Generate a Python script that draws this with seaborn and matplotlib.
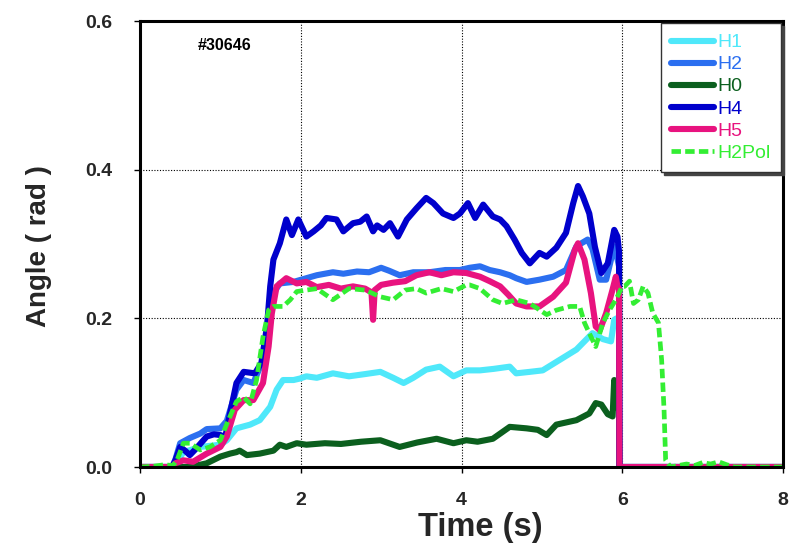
import matplotlib
matplotlib.use("Agg")
import matplotlib.pyplot as plt
import seaborn as sns
import pandas as pd

# ---------------- data ----------------
series_names = ["H1", "H2", "H0", "H4", "H5", "H2Pol"]
series_colors = ["#4FE8FA", "#2B6FF0", "#0B5F1E", "#0000CC", "#E8137F", "#33EE33"]

H1_t = [0, 0.40, 0.44, 0.54, 0.75, 1.00, 1.08, 1.20, 1.37, 1.49, 1.62, 1.70, 1.78, 1.91, 1.99, 2.07, 2.2, 2.40, 2.6, 2.8, 2.99, 3.15, 3.28, 3.4, 3.56, 3.73, 3.90, 4.06, 4.23, 4.4, 4.60, 4.68, 4.85, 5.01, 5.22, 5.43, 5.63, 5.76, 5.86, 5.90, 5.93, 5.96, 5.965, 8.0]
H1_v = [0, 0, 0.003, 0.02, 0.027, 0.03, 0.036, 0.052, 0.057, 0.063, 0.081, 0.104, 0.117, 0.117, 0.119, 0.122, 0.12, 0.126, 0.122, 0.125, 0.128, 0.12, 0.113, 0.12, 0.131, 0.135, 0.122, 0.13, 0.13, 0.132, 0.135, 0.126, 0.128, 0.13, 0.144, 0.158, 0.18, 0.172, 0.169, 0.198, 0.2, 0.2, 0.0, 0.0]

H2_t = [0, 0.40, 0.44, 0.50, 0.62, 0.75, 0.83, 1.00, 1.08, 1.20, 1.29, 1.41, 1.53, 1.60, 1.66, 1.74, 1.91, 2.07, 2.2, 2.4, 2.53, 2.7, 2.85, 3.0, 3.1, 3.23, 3.4, 3.6, 3.8, 3.98, 4.1, 4.23, 4.35, 4.48, 4.6, 4.68, 4.81, 4.97, 5.14, 5.30, 5.43, 5.57, 5.63, 5.72, 5.80, 5.90, 5.94, 5.96, 5.965, 8.0]
H2_v = [0, 0, 0.01, 0.032, 0.039, 0.045, 0.051, 0.052, 0.062, 0.104, 0.117, 0.113, 0.144, 0.202, 0.234, 0.247, 0.249, 0.254, 0.258, 0.262, 0.26, 0.263, 0.262, 0.268, 0.264, 0.258, 0.262, 0.262, 0.265, 0.265, 0.268, 0.27, 0.265, 0.262, 0.258, 0.254, 0.249, 0.252, 0.256, 0.265, 0.297, 0.306, 0.293, 0.252, 0.252, 0.297, 0.28, 0.27, 0.0, 0.0]

H0_t = [0, 0.62, 0.83, 1.00, 1.12, 1.20, 1.24, 1.33, 1.49, 1.66, 1.74, 1.82, 1.95, 2.07, 2.3, 2.5, 2.75, 2.99, 3.23, 3.45, 3.69, 3.90, 4.06, 4.2, 4.39, 4.60, 4.81, 4.95, 5.06, 5.18, 5.43, 5.59, 5.67, 5.74, 5.82, 5.88, 5.90, 5.92, 5.96, 5.965, 8.0]
H0_v = [0, 0, 0.005, 0.014, 0.018, 0.020, 0.022, 0.016, 0.018, 0.022, 0.030, 0.027, 0.032, 0.030, 0.032, 0.031, 0.034, 0.036, 0.027, 0.033, 0.038, 0.032, 0.036, 0.034, 0.038, 0.054, 0.052, 0.05, 0.043, 0.057, 0.063, 0.072, 0.086, 0.084, 0.071, 0.068, 0.117, 0.08, 0.08, 0.0, 0.0]

H4_t = [0, 0.40, 0.44, 0.50, 0.56, 0.62, 0.70, 0.83, 0.92, 1.00, 1.06, 1.12, 1.20, 1.29, 1.36, 1.43, 1.51, 1.58, 1.62, 1.66, 1.74, 1.82, 1.89, 1.97, 2.07, 2.16, 2.25, 2.32, 2.445, 2.53, 2.65, 2.74, 2.82, 2.90, 2.95, 3.03, 3.11, 3.21, 3.32, 3.44, 3.56, 3.65, 3.77, 3.90, 3.98, 4.08, 4.17, 4.27, 4.39, 4.48, 4.56, 4.66, 4.75, 4.85, 4.97, 5.06, 5.18, 5.30, 5.39, 5.45, 5.51, 5.59, 5.66, 5.74, 5.82, 5.90, 5.94, 5.96, 5.965, 8.0]
H4_v = [0, 0, 0.009, 0.027, 0.022, 0.016, 0.025, 0.041, 0.044, 0.043, 0.040, 0.072, 0.113, 0.128, 0.127, 0.126, 0.140, 0.189, 0.243, 0.279, 0.301, 0.333, 0.312, 0.333, 0.310, 0.317, 0.325, 0.335, 0.333, 0.317, 0.328, 0.330, 0.337, 0.317, 0.325, 0.319, 0.328, 0.310, 0.333, 0.348, 0.362, 0.355, 0.341, 0.335, 0.341, 0.355, 0.335, 0.353, 0.337, 0.333, 0.324, 0.306, 0.288, 0.274, 0.288, 0.283, 0.295, 0.315, 0.355, 0.378, 0.364, 0.341, 0.296, 0.261, 0.274, 0.319, 0.310, 0.29, 0.0, 0.0]

H5_t = [0, 0.40, 0.44, 0.54, 0.66, 0.83, 1.00, 1.08, 1.18, 1.29, 1.41, 1.53, 1.60, 1.64, 1.70, 1.82, 1.95, 2.07, 2.2, 2.35, 2.5, 2.65, 2.8, 2.88, 2.90, 2.92, 3.0, 3.15, 3.3, 3.44, 3.6, 3.75, 3.9, 4.06, 4.23, 4.35, 4.48, 4.58, 4.68, 4.81, 4.97, 5.14, 5.30, 5.41, 5.45, 5.53, 5.61, 5.67, 5.72, 5.80, 5.88, 5.92, 5.94, 5.96, 5.965, 8.0]
H5_v = [0, 0, 0.005, 0.009, 0.007, 0.018, 0.027, 0.041, 0.077, 0.090, 0.090, 0.113, 0.162, 0.2065, 0.243, 0.254, 0.247, 0.249, 0.242, 0.245, 0.240, 0.243, 0.240, 0.235, 0.198, 0.238, 0.245, 0.248, 0.250, 0.258, 0.262, 0.258, 0.262, 0.261, 0.256, 0.250, 0.243, 0.232, 0.220, 0.216, 0.216, 0.229, 0.248, 0.292, 0.301, 0.279, 0.234, 0.189, 0.184, 0.207, 0.239, 0.256, 0.243, 0.24, 0.0, 0.0]

H2Pol_t = [0, 0.17, 0.30, 0.41, 0.46, 0.54, 0.62, 0.75, 0.87, 1.00, 1.08, 1.20, 1.29, 1.37, 1.45, 1.53, 1.60, 1.66, 1.78, 1.87, 1.95, 2.07, 2.2, 2.40, 2.6, 2.8, 2.99, 3.15, 3.3, 3.44, 3.56, 3.75, 3.90, 4.06, 4.10, 4.23, 4.39, 4.51, 4.68, 4.85, 5.06, 5.18, 5.35, 5.47, 5.53, 5.59, 5.67, 5.76, 5.84, 5.92, 6.00, 6.03, 6.09, 6.14, 6.20, 6.26, 6.32, 6.38, 6.45, 6.49, 6.52, 6.54, 6.6, 6.8, 6.9, 7.0, 7.1, 7.2, 7.3, 7.4, 8.0]
H2Pol_v = [0, 0.001, 0.003, 0.002, 0.009, 0.032, 0.032, 0.023, 0.027, 0.036, 0.058, 0.088, 0.094, 0.085, 0.117, 0.175, 0.211, 0.216, 0.216, 0.225, 0.236, 0.238, 0.24, 0.225, 0.24, 0.238, 0.229, 0.225, 0.238, 0.24, 0.234, 0.24, 0.236, 0.245, 0.245, 0.24, 0.225, 0.22, 0.225, 0.22, 0.205, 0.211, 0.216, 0.216, 0.194, 0.18, 0.162, 0.194, 0.211, 0.225, 0.243, 0.243, 0.25, 0.22, 0.225, 0.243, 0.234, 0.207, 0.194, 0.144, 0.077, 0.009, 0.0, 0.004, 0.002, 0.006, 0.004, 0.007, 0.003, 0.0, 0.0]

x_ticks = [0, 2, 4, 6, 8]
x_tick_labels = ["0", "2", "4", "6", "8"]
y_ticks = [0.0, 0.2, 0.4, 0.6]
y_tick_labels = ["0.0", "0.2", "0.4", "0.6"]
shot_label = "#30646"

series_data = {
    "H1": (H1_t, H1_v), "H2": (H2_t, H2_v), "H0": (H0_t, H0_v),
    "H4": (H4_t, H4_v), "H5": (H5_t, H5_v), "H2Pol": (H2Pol_t, H2Pol_v),
}

# ---------------- figure ----------------
sns.set_theme(style="white")
plt.rcParams["font.family"] = ["Liberation Sans", "DejaVu Sans"]
plt.rcParams["font.weight"] = "bold"

fig = plt.figure(figsize=(7.92, 5.52), dpi=100)
ax = fig.add_axes([140 / 792, 1 - 467 / 552, (783 - 140) / 792, (467 - 21) / 552])

for name, color in zip(series_names, series_colors):
    t, v = series_data[name]
    df = pd.DataFrame({"Time": t, "Angle": v})
    if name == "H2Pol":
        kw = dict(linestyle=(0, (2.0, 0.9)), linewidth=3.4)
    else:
        kw = dict(linewidth=4.4)
    sns.lineplot(data=df, x="Time", y="Angle", ax=ax, color=color, label=name,
                 estimator=None, sort=False, solid_joinstyle="round", **kw)

ax.set_xlim(0, 8)
ax.set_ylim(0, 0.6)
ax.set_xticks(x_ticks)
ax.set_xticklabels(x_tick_labels, fontsize=14, fontweight="bold")
ax.set_yticks(y_ticks)
ax.set_yticklabels(y_tick_labels, fontsize=14, fontweight="bold")
ax.tick_params(axis="x", direction="out", length=4, width=1, color="black",
               bottom=True, pad=14)
ax.tick_params(axis="y", direction="out", length=4, width=1, color="black",
               left=True, pad=16)
ax.grid(True, color="black", linestyle=(0, (1, 1.5)), linewidth=0.8)
for s in ax.spines.values():
    s.set_color("black")
    s.set_linewidth(2.2)

ax.set_xlabel("Time (s)", fontsize=23.5, fontweight="bold")
ax.xaxis.set_label_coords(0.53, -0.1)
ax.set_ylabel("Angle ( rad )", fontsize=20, fontweight="bold")
ax.yaxis.set_label_coords(-0.137, 0.495)

ax.text(0.09, 0.945, shot_label, transform=ax.transAxes, fontsize=11.5,
        fontweight="bold", color="black", ha="left", va="center")

leg = ax.legend(loc="upper right", bbox_to_anchor=(0.997, 0.9955), borderaxespad=0,
                prop={"size": 14, "weight": "normal"}, frameon=True, fancybox=False,
                edgecolor="#333333", framealpha=1, handlelength=2.2,
                handletextpad=0.15, labelspacing=0.23, borderpad=0.55,
                shadow={"ox": 2, "oy": -2, "color": "#444444", "alpha": 1})
leg.get_frame().set_linewidth(1.0)
for txt, color in zip(leg.get_texts(), series_colors):
    txt.set_color(color)

fig.savefig("out.png", dpi=100)
